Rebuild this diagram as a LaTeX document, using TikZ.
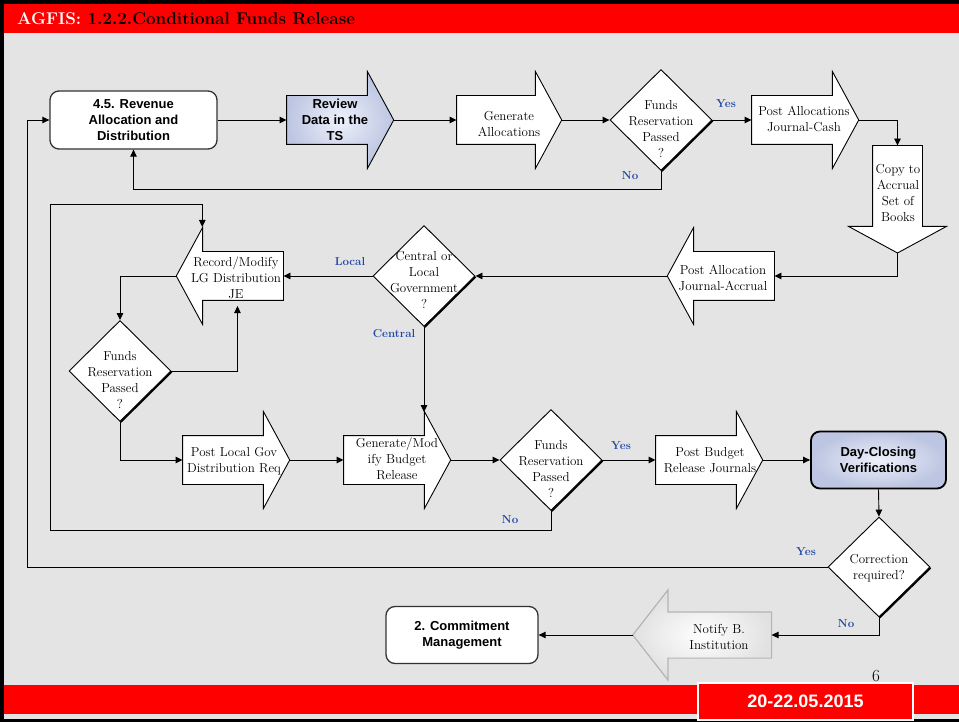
\documentclass[tikz,border=0pt]{standalone}
\usepackage{fontspec}
\newfontfamily\arialfont{Liberation Sans}
\usetikzlibrary{shapes.arrows}
\usetikzlibrary{shapes.geometric}
\usetikzlibrary{arrows.meta}
\usetikzlibrary{calc}
\usetikzlibrary{shadows}
\definecolor{lblue}{RGB}{32,72,165}
\definecolor{lavout}{RGB}{188,197,225}
\definecolor{lavin}{RGB}{238,241,251}
\definecolor{slred}{RGB}{255,0,0}
\definecolor{paper}{RGB}{228,228,228}
\definecolor{nbgray}{RGB}{180,180,180}
\newcommand{\sanstext}{\fontsize{13}{16}\selectfont\arialfont\bfseries}
\newcommand{\serftext}{\fontsize{13}{16}\selectfont}

\begin{document}
\begin{tikzpicture}[
        x=1pt, y=-1pt,
        blk/.style={single arrow, draw=black, fill=white, line width=0.9pt,
                    single arrow tip angle=123, single arrow head extend=24pt,
                    inner xsep=46.5pt, inner ysep=24pt, minimum size=0pt, outer sep=0pt},
        lblk/.style={blk, shape border rotate=180},
        dia/.style={diamond, draw=black, fill=white, line width=0.9pt, inner sep=0pt,
                    minimum width=102pt, minimum height=101pt,
                    drop shadow={shadow xshift=1.4pt, shadow yshift=-1.4pt, opacity=1, fill=black}},
        rbox/.style={rectangle, rounded corners=9pt, draw=black!80, line width=1.3pt, fill=white,
                     minimum width=167pt, minimum height=58pt, align=center, inner sep=0pt,
                     font=\sanstext},
        txt/.style={align=center, inner sep=0pt, font=\serftext},
        btxt/.style={align=center, inner sep=0pt, font=\sanstext},
        lbl/.style={inner sep=0pt, text=lblue, font=\bfseries\fontsize{11.5}{14}\selectfont},
        flow/.style={line width=0.9pt, -{Triangle[length=7pt,width=6.5pt]}}
      ]
      \useasboundingbox (0,0) rectangle (959,722);
      % slide frame
      \fill[black] (0,0) rectangle (959,722);
      \fill[paper] (4,4) rectangle (959,719);
      \fill[slred] (4,4) rectangle (959,33);
      \fill[slred] (4,685) rectangle (959,714);
      \node[anchor=base west, inner sep=0pt, font=\bfseries\fontsize{17}{20}\selectfont] (ttl)
        at (17,25) {\textcolor{white}{AGFIS:} 1.2.2.Conditional Funds Release};
      \node[draw=white, line width=1.2pt, fill=slred, minimum width=215pt, minimum height=37pt,
            inner sep=0pt, text=white, font=\arialfont\bfseries\fontsize{18}{20}\selectfont] (date)
        at (805.5,701.5) {20-22.05.2015};
      \node[inner sep=0pt, font=\fontsize{17}{20}\selectfont] (pg) at (876,676) {6};

      % top row
      \node[rbox] (rv) at (133.5,120) {4.5. Revenue\\Allocation and\\Distribution};
      \node[blk, inner color=lavin, outer color=lavout] (rev) at (333.5,120) {};
      \node[btxt] (rev-t) at (335,120) {Review\\Data in the\\TS};
      \node[blk, inner xsep=45.5pt] (gen) at (502.5,120) {};
      \node[txt] (gen-t) at (509,124) {Generate\\Allocations};
      \node[dia] (fr1) at (661,120) {};
      \node[txt] (fr1-t) at (661,129) {Funds\\Reservation\\Passed\\?};
      \node[blk] (pac) at (798.5,120) {};
      \node[txt] (pac-t) at (804,119) {Post Allocations\\Journal-Cash};
      \node[blk, shape border rotate=270, inner xsep=24.5pt, inner ysep=46.5pt] (cpy) at (897.5,192.5) {};
      \node[txt] (cpy-t) at (898,193) {Copy to\\Accrual\\Set of\\Books};

      % middle row
      \node[lblk] (paa) at (727.5,276) {};
      \node[txt] (paa-t) at (723,278) {Post Allocation\\Journal-Accrual};
      \node[dia] (cl) at (424,276) {};
      \node[txt] (cl-t) at (424,280) {Central or\\Local\\Government\\?};
      \node[lblk] (rec) at (236.5,276) {};
      \node[txt] (rec-t) at (236,278) {Record/Modify\\LG Distribution\\JE};
      \node[dia] (fr3) at (120,371) {};
      \node[txt] (fr3-t) at (120,380) {Funds\\Reservation\\Passed\\?};

      % bottom row
      \node[blk] (plg) at (229.5,460) {};
      \node[txt] (plg-t) at (234,461) {Post Local Gov\\Distribution Req};
      \node[blk] (gmb) at (390.5,460) {};
      \node[txt] (gmb-t) at (397,459) {Generate/Mod\\ify Budget\\Release};
      \node[dia] (fr2) at (551,460) {};
      \node[txt] (fr2-t) at (551,469) {Funds\\Reservation\\Passed\\?};
      \node[blk] (pbr) at (702.5,460) {};
      \node[txt] (pbr-t) at (710,460) {Post Budget\\Release Journals};
      \node[rbox, minimum width=135pt, minimum height=57pt, draw=black, line width=1.8pt,
            inner color=lavin, outer color=lavout] (dcv) at (878.5,460) {Day-Closing\\Verifications};
      \node[dia, minimum height=100pt] (cor) at (879,567) {};
      \node[txt] (cor-t) at (879,568) {Correction\\required?};
      \node[lblk, draw=nbgray, line width=1.2pt, inner color=white, outer color=black!12,
            inner xsep=59.8pt, inner ysep=22.5pt, single arrow head extend=22pt,
            single arrow tip angle=104] (nbi) at (711.2,635) {};
      \node[txt] (nbi-t) at (719,637) {Notify B.\\Institution};
      \node[rbox, minimum width=152pt, minimum height=57pt] (cm) at (462,635) {2. Commitment\\Management};

      % bends of the loops
      \coordinate (lp) at (50,204);
      \coordinate (lft) at (27,120);
      \coordinate (rechd) at ($(rec.tip)+(26,-49)$);
      \coordinate (recft) at ($(rec.tail)+(-46,30)$);
      \coordinate (gmbhd) at ($(gmb.tip)+(-26,-48)$);

      \draw[flow] (rv.east) -- (rev.tail);
      \draw[flow] (rev.tip) -- (gen.tail);
      \draw[flow] (gen.tip) -- (fr1.west);
      \draw[flow] (fr1.east) -- (pac.tail);
      \draw[flow] (pac.tip) -| (cpy.tail);
      \draw[flow] (fr1.south) -- ++(0,19) -| (rv.south);
      \draw[flow] (cpy.tip) |- (paa.tail);
      \draw[flow] (paa.tip) -- (cl.east);
      \draw[flow] (cl.west) -- (rec.tail);
      \draw[flow] (rec.tip) -| (fr3.north);
      \draw[flow] (fr3.east) -| (recft);
      \draw[flow] (fr3.south) |- (plg.tail);
      \draw[flow] (plg.tip) -- (gmb.tail);
      \draw[flow] (cl.south) -- (cl.south |- gmbhd);
      \draw[flow] (gmb.tip) -- (fr2.west);
      \draw[flow] (fr2.east) -- (pbr.tail);
      \draw[flow] (fr2.south) -- ++(0,19) -| (lp) -| (rechd);
      \draw[flow] (pbr.tip) -- (dcv.west);
      \draw[flow] (dcv.south) -- (cor.north);
      \draw[flow] (cor.west) -| (lft) -- (rv.west);
      \draw[flow] (cor.south) |- (nbi.tail);
      \draw[flow] (nbi.tip) -- (cm.east);

      \node[lbl] (y1) at (726,104) {Yes};
      \node[lbl] (n1) at (630,176) {No};
      \node[lbl] (loc) at (350,262) {Local};
      \node[lbl] (cen) at (394,334) {Central};
      \node[lbl] (y2) at (621,446) {Yes};
      \node[lbl] (n2) at (510,520) {No};
      \node[lbl] (y3) at (806,552) {Yes};
      \node[lbl] (n3) at (846,624) {No};
    \end{tikzpicture}
\end{document}
